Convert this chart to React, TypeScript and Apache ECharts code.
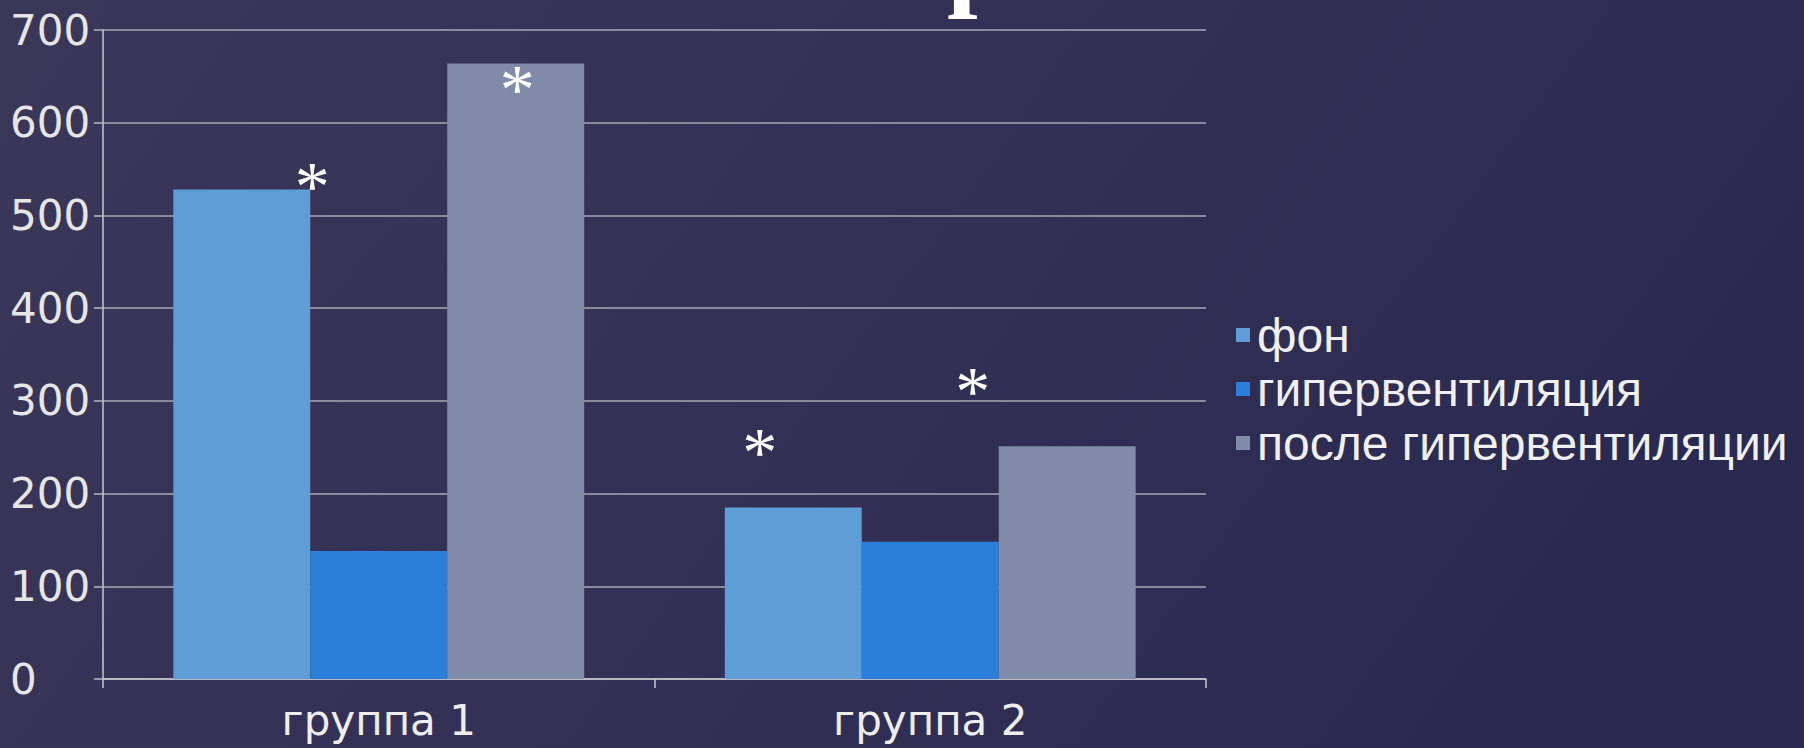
import React, { useEffect, useRef } from "react";
import * as echarts from "echarts";

const categories = ["группа 1", "группа 2"];
const seriesNames = ["фон", "гипервентиляция", "после гипервентиляции"];
const fonValues = [528, 185];
const hyperValues = [138, 148];
const afterValues = [664, 251];
const yTicks = [0, 100, 200, 300, 400, 500, 600, 700];
// significance marks: series index, category index, label offset (relative to bar's top-left)
const stars = [
  { s: 0, c: 0, pos: [139, -3] },
  { s: 2, c: 0, pos: [70, 26] },
  { s: 0, c: 1, pos: [35, -55] },
  { s: 2, c: 1, pos: [-26, -55] },
];

const colors = ["#5e9dd5", "#2b7fd8", "#7f8ba8"];

export default function App() {
  const ref = useRef<HTMLDivElement>(null);
  useEffect(() => {
    document.body.style.margin = "0";
    const chart = echarts.init(ref.current!, null, { renderer: "svg" });
    const valueSets = [fonValues, hyperValues, afterValues];
    const series = valueSets.map((vals, si) => ({
      name: seriesNames[si],
      type: "bar",
      barGap: "0%",
      barCategoryGap: "25.5%",
      itemStyle: { color: colors[si] },
      data: vals.map((v, ci) => {
        const st = stars.find((x) => x.s === si && x.c === ci);
        if (!st) return v;
        return {
          value: v,
          label: {
            show: true,
            formatter: "*",
            position: st.pos,
            align: "center",
            verticalAlign: "middle",
            color: "#ffffff",
            fontFamily: "Liberation Serif",
            fontSize: 70,
          },
        };
      }),
    }));
    chart.setOption({
      animation: false,
      backgroundColor: {
        type: "linear",
        x: 0,
        y: 0,
        x2: 1,
        y2: 0.3,
        colorStops: [
          { offset: 0, color: "#3a3759" },
          { offset: 0.6, color: "#332f55" },
          { offset: 1, color: "#2a2a50" },
        ],
      },
      textStyle: { fontFamily: "Liberation Sans" },
      grid: { left: 103, right: 598, top: 30, bottom: 69, containLabel: false },
      legend: {
        orient: "vertical",
        left: 1231,
        top: 306,
        itemWidth: 14,
        itemHeight: 14,
        itemGap: 6,
        icon: "rect",
        data: seriesNames,
        textStyle: {
          color: "#f0f0f0",
          fontSize: 48,
          lineHeight: 48,
          fontFamily: "Liberation Sans",
          padding: [0, 0, 0, 2],
        },
      },
      xAxis: {
        type: "category",
        data: categories,
        axisLine: { lineStyle: { color: "#c9c9d2", width: 1.5 } },
        axisTick: { show: true, length: 9, lineStyle: { color: "#c9c9d2", width: 1.5 } },
        axisLabel: {
          color: "#eeeeee",
          fontSize: 42,
          margin: 20,
          fontFamily: "DejaVu Sans",
        },
      },
      yAxis: {
        type: "value",
        min: yTicks[0],
        max: yTicks[yTicks.length - 1],
        interval: 100,
        axisLine: { show: true, lineStyle: { color: "#c9c9d2", width: 1.5 } },
        axisTick: { show: true, length: 9, lineStyle: { color: "#b8b8c4", width: 1.5 } },
        splitLine: { lineStyle: { color: "#8a8a9e", width: 2 } },
        axisLabel: {
          color: "#e6e6e6",
          fontSize: 42,
          align: "left",
          margin: 93,
          fontFamily: "DejaVu Sans",
        },
      },
      graphic: [
        {
          type: "text",
          x: 947,
          y: -41,
          style: {
            text: "р",
            fontFamily: "Liberation Serif",
            fontWeight: "bold",
            fontSize: 110,
            fill: "#ffffff",
            align: "left",
            verticalAlign: "middle",
          },
        },
      ],
      series,
    });
    return () => chart.dispose();
  }, []);
  return <div ref={ref} style={{ width: 1804, height: 748 }} />;
}
